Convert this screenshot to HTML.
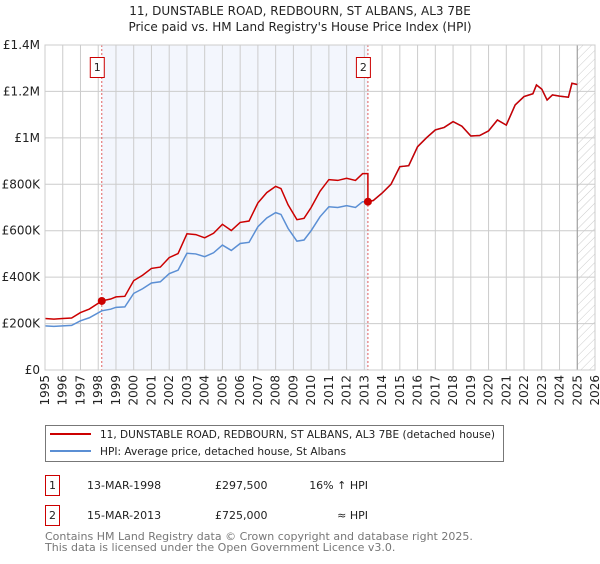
<!DOCTYPE html>
<html><head><meta charset="utf-8"><style>
body{margin:0;background:#fff;font-family:"DejaVu Sans","Liberation Sans",sans-serif;}
svg text{font-family:"DejaVu Sans","Liberation Sans",sans-serif;}
</style></head><body>
<svg id="c" width="600" height="560" xmlns="http://www.w3.org/2000/svg">
<defs><pattern id="hatch" width="6" height="6" patternUnits="userSpaceOnUse" patternTransform="rotate(45)"><line x1="0" y1="0" x2="0" y2="6" stroke="#ccc" stroke-width="1"/></pattern></defs>
<text x="300" y="15" text-anchor="middle" font-size="12" fill="#222">11, DUNSTABLE ROAD, REDBOURN, ST ALBANS, AL3 7BE</text>
<text x="300" y="31" text-anchor="middle" font-size="12" fill="#222">Price paid vs. HM Land Registry's House Price Index (HPI)</text>
<g id="plot"></g>
<g>
<rect x="45.5" y="425.5" width="458" height="36" fill="#fff" stroke="#777"/>
<line x1="50" y1="434" x2="91" y2="434" stroke="#cc0000" stroke-width="2"/>
<text x="100" y="438" font-size="10.6" fill="#222" textLength="395" lengthAdjust="spacingAndGlyphs">11, DUNSTABLE ROAD, REDBOURN, ST ALBANS, AL3 7BE (detached house)</text>
<line x1="50" y1="451" x2="91" y2="451" stroke="#5b8fd4" stroke-width="2"/>
<text x="100" y="455" font-size="10.6" fill="#222">HPI: Average price, detached house, St Albans</text>
</g>
<g font-size="11" fill="#222">
<rect x="45.5" y="475.5" width="14" height="20" fill="#fff" stroke="#cc0000"/>
<text x="52.5" y="489" text-anchor="middle">1</text>
<text x="87" y="489">13-MAR-1998</text><text x="215" y="489">£297,500</text><text x="368" y="489" text-anchor="end">16% ↑ HPI</text>
<rect x="45.5" y="505.5" width="14" height="20" fill="#fff" stroke="#cc0000"/>
<text x="52.5" y="519" text-anchor="middle">2</text>
<text x="87" y="519">15-MAR-2013</text><text x="215" y="519">£725,000</text><text x="368" y="519" text-anchor="end">≈ HPI</text>
</g>
<text x="45" y="540" font-size="11" fill="#777">Contains HM Land Registry data © Crown copyright and database right 2025.</text>
<text x="45" y="551" font-size="11" fill="#777">This data is licensed under the Open Government Licence v3.0.</text>
</svg>
<script>
const years=[1995,1995.5,1996,1996.5,1997,1997.5,1998.2,1998.7,1999,1999.5,2000,2000.5,2001,2001.5,2002,2002.5,2003,2003.5,2004,2004.5,2005,2005.5,2006,2006.5,2007,2007.5,2008,2008.3,2008.7,2009.2,2009.6,2010,2010.5,2011,2011.5,2012,2012.5,2012.9,2013.2,2013.5,2014,2014.5,2015,2015.5,2016,2016.5,2017,2017.5,2018,2018.5,2019,2019.5,2020,2020.5,2021,2021.5,2022,2022.5,2022.7,2023,2023.3,2023.6,2024,2024.5,2024.7,2025];
const hpi=[190,188,190,192,212,225,255,262,270,272,330,350,375,380,415,430,503,500,488,505,538,515,545,550,617,655,678,670,610,555,560,600,660,703,700,708,700,725,725,730,762,800,876,880,962,1000,1034,1045,1070,1050,1008,1010,1030,1077,1055,1142,1178,1190,1228,1210,1163,1185,1180,1175,1235,1230];
const saleYears=[1998.2,2013.2];
const salePrices=[297.5,725];
const saleLabels=["1","2"];
const yTicks=[0,200,400,600,800,1000,1200,1400];
const yTickLabels=["£0","£200K","£400K","£600K","£800K","£1M","£1.2M","£1.4M"];
const xTicks=[1995,1996,1997,1998,1999,2000,2001,2002,2003,2004,2005,2006,2007,2008,2009,2010,2011,2012,2013,2014,2015,2016,2017,2018,2019,2020,2021,2022,2023,2024,2025,2026];

const X0=45,X1=595,Y0=370,Y1=45;
const x=v=>X0+(v-1995)/(2026-1995)*(X1-X0);
const y=v=>Y0-v/1400*(Y0-Y1);
const NS="http://www.w3.org/2000/svg";
const g=document.getElementById('plot');
function mk(t,a,p){const e=document.createElementNS(NS,t);for(const k in a)e.setAttribute(k,a[k]);(p||g).appendChild(e);return e;}
let e=mk('rect',{x:x(saleYears[0]),y:Y1,width:x(saleYears[1])-x(saleYears[0]),height:Y0-Y1,fill:'#f3f6fd'});


e=mk('rect',{x:x(2025),y:Y1,width:X1-x(2025),height:Y0-Y1,fill:'url(#hatch)'});


xTicks.forEach(t=>{const l=mk('line',{x1:x(t),x2:x(t),y1:Y1,y2:Y0,stroke:'#ccc','stroke-width':1});


const tx=mk('text',{x:0,y:0,'font-size':12,fill:'#222','text-anchor':'end',transform:`translate(${x(t)+4},${Y0+5}) rotate(-90)`});tx.textContent=t;

});
yTicks.forEach((t,i)=>{const l=mk('line',{x1:X0,x2:X1,y1:y(t),y2:y(t),stroke:'#ccc','stroke-width':1});


const tx=mk('text',{x:X0-5,y:y(t)+4,'font-size':12,fill:'#222','text-anchor':'end'});tx.textContent=yTickLabels[i];

});
e=mk('line',{x1:x(2025),x2:x(2025),y1:Y1,y2:Y0,stroke:'#999','stroke-width':1});


saleYears.forEach((s,i)=>{const l=mk('line',{x1:x(s),x2:x(s),y1:Y1,y2:Y0,stroke:'#e06060','stroke-width':1,'stroke-dasharray':'2,2'});


const r=mk('rect',{x:x(s)-11.5,y:57.5,width:14,height:20,fill:'#fff',stroke:'#cc0000'});


const tx=mk('text',{x:x(s)-4.5,y:71,'font-size':11,fill:'#222','text-anchor':'middle'});tx.textContent=saleLabels[i];

});
function hpiAt(t){for(let i=0;i<years.length-1;i++){if(t<=years[i+1]){const f=(t-years[i])/(years[i+1]-years[i]);return hpi[i]+f*(hpi[i+1]-hpi[i]);}}return hpi[hpi.length-1];}
e=mk('polyline',{points:years.map((t,i)=>x(t)+','+y(hpi[i])).join(' '),fill:'none',stroke:'#5b8fd4','stroke-width':1.5});


const pts=[];
years.forEach((t,i)=>{let k=0;for(let j=0;j<saleYears.length;j++)if(t>=saleYears[j])k=j;
const ref=salePrices[k]/hpiAt(saleYears[k]);
if(i>0&&years[i-1]<saleYears[1]&&t>=saleYears[1]){const r0=salePrices[0]/hpiAt(saleYears[0]);pts.push(x(saleYears[1])+','+y(hpiAt(saleYears[1])*r0));}
pts.push(x(t)+','+y(hpi[i]*ref));});
e=mk('polyline',{points:pts.join(' '),fill:'none',stroke:'#cc0000','stroke-width':1.5});


saleYears.forEach((s,i)=>{const c=mk('circle',{cx:x(s),cy:y(salePrices[i]),r:4,fill:'#cc0000'});

});
e=mk('rect',{x:X0,y:Y1,width:X1-X0,height:Y0-Y1,fill:'none',stroke:'#ccc'});


</script>
</body></html>
